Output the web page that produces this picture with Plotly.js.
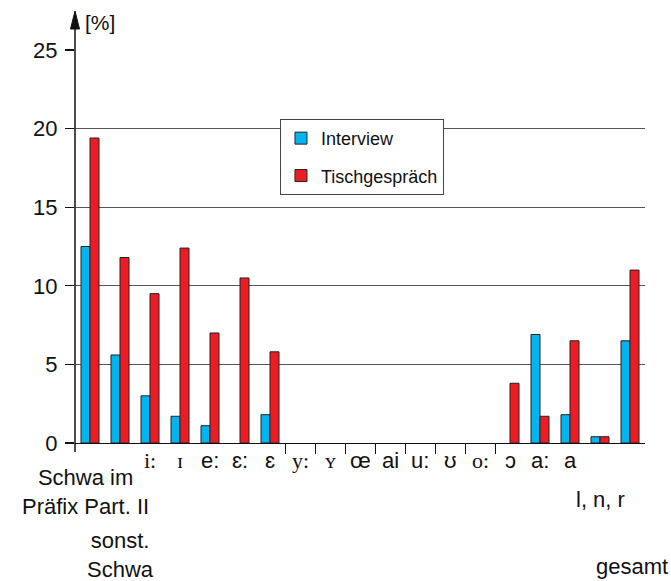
<!DOCTYPE html>
<html>
<head>
<meta charset="utf-8">
<script src="https://cdn.plot.ly/plotly-3.0.1.min.js"></script>
<style>html,body{margin:0;padding:0;background:#fff;}#chart{width:671px;height:581px;}</style>
</head>
<body>
<div id="chart"></div>
<script>
// ---- data ----
var categories = ['Schwa im Präfix Part. II','sonst. Schwa','i:','ɪ','e:','ɛ:','ɛ','y:','ʏ','œ','ai','u:','ʊ','o:','ɔ','a:','a','l, n, r','gesamt'];
var tickLabels = ['Schwa im<br>Präfix Part. II','sonst.<br>Schwa','i:','ɪ','e:','ɛ:','ɛ','y:','ʏ','œ','ai','u:','ʊ','o:','ɔ','a:','a','l, n, r','gesamt'];
var interview = [12.5,5.6,3.0,1.7,1.1,0,1.8,0,0,0,0,0,0,0,0,6.9,1.8,0.4,6.5];
var tischgespraech = [19.4,11.8,9.5,12.4,7.0,10.5,5.8,0,0,0,0,0,0,0,3.8,1.7,6.5,0.4,11.0];
var seriesNames = ['Interview','Tischgespräch'];
var yTicks = [0,5,10,15,20,25];

// ---- styling (positions of the staggered labels) ----
var SANS = 'Liberation Sans, Arial, sans-serif';
var SERIF = 'Liberation Serif, Times New Roman, serif';
var serifLabels = ['i:','ɪ','y:','ʏ','o:'];
function labelShift(i){
  if(i === 0) return {x:-5, y:-49};
  if(i === 1) return {x:0, y:-112};
  if(i === categories.length - 2) return {x:0, y:-56};
  if(i === categories.length - 1) return {x:2, y:-123};
  return {x:0, y:-17};
}
// zero-height bars are not drawn in the reference
function hideZero(v){ return v === 0 ? null : v; }

var traces = [
  {type:'bar', name:seriesNames[0], x:categories, y:interview.map(hideZero), legendgroup:'a',
   marker:{color:'#00B5EF', line:{color:'#222', width:1}}},
  {type:'bar', name:seriesNames[1], x:categories, y:tischgespraech.map(hideZero), legendgroup:'b',
   marker:{color:'#ED1C24', line:{color:'#222', width:1}}},
  {type:'scatter', x:[], y:[], xaxis:'x2', showlegend:false, hoverinfo:'skip'}
];

var annotations = tickLabels.map(function(t,i){
  var s = labelShift(i);
  return {xref:'x', yref:'paper', x:categories[i], y:0, xanchor:'center', yanchor:'middle',
    xshift:s.x, yshift:s.y, showarrow:false, text:t,
    font:{family: serifLabels.indexOf(t) >= 0 ? SERIF : SANS, size:22, color:'#111'}};
});
annotations.push({xref:'paper', yref:'paper', x:0, y:1, xanchor:'left', yanchor:'middle',
  xshift:8, yshift:28, showarrow:false, text:'[%]', font:{family:SANS, size:21, color:'#111'}});

var boundaries = [];
for (var b = 7; b <= 14; b++) boundaries.push(b - 0.5);

var layout = {
  width:671, height:581,
  margin:{l:75, r:26, t:50, b:138},
  paper_bgcolor:'#fff', plot_bgcolor:'#fff',
  font:{family:SANS, color:'#111'},
  barmode:'group', bargap:0.4, bargroupgap:0,
  showlegend:true,
  legend:{x:0.3596, y:0.8246, xanchor:'left', yanchor:'top', bgcolor:'#fff',
    bordercolor:'#444', borderwidth:1, font:{family:SANS, size:18, color:'#111'},
    traceorder:'grouped', tracegroupgap:11},
  xaxis:{type:'category', range:[-0.5, categories.length - 0.5], showticklabels:false,
    ticks:'', showgrid:false, showline:true, linecolor:'#111', linewidth:1.2, zeroline:false, fixedrange:true},
  xaxis2:{overlaying:'x', anchor:'y', range:[-0.5, categories.length - 0.5], tickmode:'array',
    tickvals:boundaries, ticks:'outside', ticklen:10, tickcolor:'#111', tickwidth:1,
    showticklabels:false, showgrid:false, showline:false, zeroline:false},
  yaxis:{range:[0,25], tickmode:'array', tickvals:yTicks, ticktext:yTicks.map(String),
    ticks:'outside', ticklen:9, tickcolor:'#111', tickwidth:1.2,
    showgrid:true, gridcolor:'#555', gridwidth:1, showline:false, zeroline:false,
    tickfont:{family:SANS, size:22, color:'#111'}, ticklabelstandoff:3},
  shapes:[
    {type:'line', xref:'paper', yref:'paper', xsizemode:'pixel', ysizemode:'pixel',
     xanchor:0, yanchor:0, x0:0, x1:0, y0:-9, y1:416, line:{color:'#111', width:1.5}},
    {type:'path', xref:'paper', yref:'paper', xsizemode:'pixel', ysizemode:'pixel',
     xanchor:0, yanchor:0, path:'M-4.5,414 L0,432 L4.5,414 Z', fillcolor:'#111', line:{color:'#111', width:1}}
  ],
  annotations:annotations
};

Plotly.newPlot('chart', traces, layout, {staticPlot:true});
</script>
</body>
</html>
